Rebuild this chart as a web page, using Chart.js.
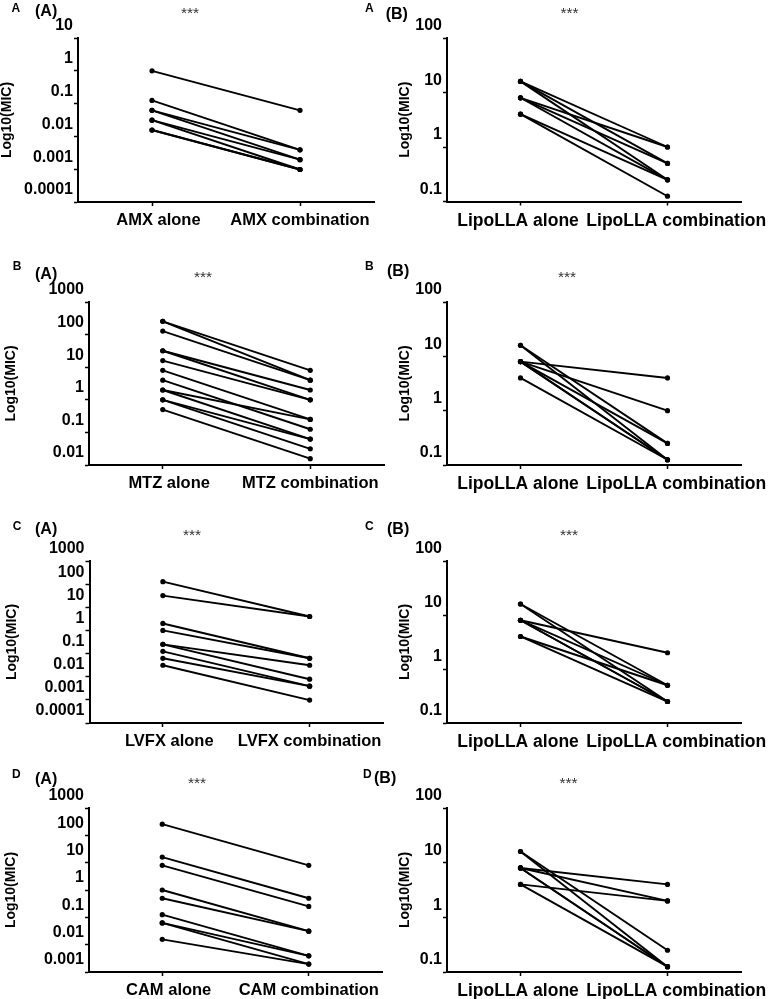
<!DOCTYPE html>
<html><head><meta charset="utf-8">
<script src="https://cdn.jsdelivr.net/npm/chart.js@4.4.1/dist/chart.umd.min.js"></script>
<style>
html,body{margin:0;padding:0;background:#fff;}
body{width:768px;height:999px;position:relative;overflow:hidden;font-family:"Liberation Sans",Arial,sans-serif;}
canvas.p{position:absolute;}
.t{position:absolute;line-height:1;white-space:nowrap;color:#000;}
</style></head><body>
<script>
// ---------- DATA ----------
const amxCats = ['AMX alone', 'AMX combination'];
const amxAlone = [1, 0.125, 0.0625, 0.0625, 0.03125, 0.03125, 0.015625, 0.015625];
const amxComb  = [0.0625, 0.0039, 0.0039, 0.00195, 0.00195, 0.00098, 0.00098, 0.00098];

const lipoCats = ['LipoLLA alone', 'LipoLLA combination'];
const lipoAAlone = [16, 16, 16, 8, 8, 8, 4, 4];
const lipoAComb  = [1, 0.5, 0.25, 1, 0.5, 0.25, 0.25, 0.125];

const mtzCats = ['MTZ alone', 'MTZ combination'];
const mtzAlone = [256, 256, 128, 32, 32, 16, 8, 4, 2, 2, 1, 1, 0.5];
const mtzComb  = [8, 4, 4, 2, 1, 1, 0.25, 0.125, 0.25, 0.0625, 0.0625, 0.03125, 0.015625];

const lipoBAlone = [16, 16, 8, 8, 8, 8, 8, 4];
const lipoBComb  = [0.25, 0.125, 4, 1, 0.25, 0.125, 0.125, 0.125];

const lvfxCats = ['LVFX alone', 'LVFX combination'];
const lvfxAlone = [128, 32, 2, 1, 0.25, 0.25, 0.125, 0.0625, 0.03125];
const lvfxComb  = [4, 4, 0.0625, 0.0625, 0.03125, 0.0078, 0.0039, 0.0039, 0.00098];

const lipoCAlone = [16, 16, 8, 8, 8, 8, 4, 4];
const lipoCComb  = [0.5, 0.25, 2, 0.5, 0.25, 0.25, 0.5, 0.25];

const camCats = ['CAM alone', 'CAM combination'];
const camAlone = [256, 16, 8, 1, 0.5, 0.125, 0.0625, 0.0625, 0.015625];
const camComb  = [8, 0.5, 0.25, 0.03125, 0.03125, 0.0039, 0.0039, 0.00195, 0.00195];

const lipoDAlone = [16, 16, 8, 8, 8, 8, 4, 4];
const lipoDComb  = [0.25, 0.125, 4, 2, 0.125, 0.125, 2, 0.125];

// tick values and labels
const ticks5 = [10, 1, 0.1, 0.01, 0.001, 0.0001];
const ticks5Labels = ['10', '1', '0.1', '0.01', '0.001', '0.0001'];
const ticksLipo = [100, 10, 1, 0.1];
const ticksLipoLabels = ['100', '10', '1', '0.1'];
const ticksMtz = [1000, 100, 10, 1, 0.1, 0.01];
const ticksMtzLabels = ['1000', '100', '10', '1', '0.1', '0.01'];
const ticksLvfx = [1000, 100, 10, 1, 0.1, 0.01, 0.001, 0.0001];
const ticksLvfxLabels = ['1000', '100', '10', '1', '0.1', '0.01', '0.001', '0.0001'];
const ticksCam = [1000, 100, 10, 1, 0.1, 0.01, 0.001];
const ticksCamLabels = ['1000', '100', '10', '1', '0.1', '0.01', '0.001'];
const yTitle = 'Log10(MIC)';

// ---------- LAYOUT ----------
const FONT = "'Liberation Sans', Arial, sans-serif";
const EN = '\u2002', NB = '\u00a0';
const padLeftPanel = [[EN + NB, ''], ['', '']];       // [alone: before, after], [combination: before, after]
const padRightPanel = [['', NB], [EN + EN, '']];
const panels = [
  {x:0,   y:8,   w:384, h:244, axL:78,   axT:38,  axB:202,   axR:374, xs:16.5, pad:padLeftPanel,  cats:amxCats,  alone:amxAlone,  comb:amxComb,  ticks:ticks5,    tl:ticks5Labels},
  {x:398, y:8,   w:370, h:244, axL:447,  axT:38,  axB:201.5, axR:741, xs:17.5, pad:padRightPanel, cats:lipoCats, alone:lipoAAlone, comb:lipoAComb, ticks:ticksLipo, tl:ticksLipoLabels},
  {x:4,   y:272, w:384, h:240, axL:89,   axT:302, axB:465,   axR:385, xs:16.5, pad:padLeftPanel,  cats:mtzCats,  alone:mtzAlone,  comb:mtzComb,  ticks:ticksMtz,  tl:ticksMtzLabels},
  {x:398, y:272, w:370, h:240, axL:447,  axT:302, axB:465,   axR:741, xs:17.5, pad:padRightPanel, cats:lipoCats, alone:lipoBAlone, comb:lipoBComb, ticks:ticksLipo, tl:ticksLipoLabels},
  {x:5,   y:530, w:382, h:236, axL:89.5, axT:561, axB:723,   axR:384, xs:16.5, pad:padLeftPanel,  cats:lvfxCats, alone:lvfxAlone, comb:lvfxComb, ticks:ticksLvfx, tl:ticksLvfxLabels},
  {x:398, y:530, w:370, h:236, axL:447,  axT:561, axB:723,   axR:741, xs:17.5, pad:padRightPanel, cats:lipoCats, alone:lipoCAlone, comb:lipoCComb, ticks:ticksLipo, tl:ticksLipoLabels},
  {x:4,   y:778, w:382, h:221, axL:89,   axT:808, axB:972,   axR:384, xs:16.5, pad:padLeftPanel,  cats:camCats,  alone:camAlone,  comb:camComb,  ticks:ticksCam,  tl:ticksCamLabels},
  {x:398, y:778, w:370, h:221, axL:447,  axT:808, axB:972,   axR:741, xs:17.5, pad:padRightPanel, cats:lipoCats, alone:lipoDAlone, comb:lipoDComb, ticks:ticksLipo, tl:ticksLipoLabels}
];

function makePanel(p) {
  const c = document.createElement('canvas');
  c.width = p.w; c.height = p.h;
  c.className = 'p';
  c.style.left = p.x + 'px'; c.style.top = p.y + 'px';
  c.style.width = p.w + 'px'; c.style.height = p.h + 'px';
  document.body.appendChild(c);
  const datasets = p.alone.map((a, i) => ({
    data: [a, p.comb[i]],
    borderColor: '#000', backgroundColor: '#000',
    borderWidth: 1.9, pointRadius: 2.6, pointBorderWidth: 0,
    pointBackgroundColor: '#000', tension: 0, clip: false
  }));
  new Chart(c, {
    type: 'line',
    data: { labels: p.cats, datasets },
    options: {
      responsive: false, animation: false, devicePixelRatio: 1,
      layout: { padding: { left: 0, right: p.w - (p.axR - p.x), top: p.axT - p.y, bottom: 0 } },
      plugins: { legend: { display: false }, tooltip: { enabled: false }, title: { display: false } },
      scales: {
        x: {
          type: 'category', offset: true,
          grid: { display: true, drawOnChartArea: false, drawTicks: true, tickLength: 4, tickWidth: 1.5, tickColor: '#000', offset: false },
          border: { display: true, color: '#000', width: 2 },
          ticks: { color: '#000', font: { family: FONT, size: p.xs, weight: 'bold' }, padding: 5, maxRotation: 0, autoSkip: false,
                   callback: function (v, i) { const pd = p.pad[i] || ['', '']; return pd[0] + this.getLabelForValue(v) + pd[1]; } },
          afterFit(s) { s.height = p.y + p.h - p.axB; s.paddingLeft = 0; s.paddingRight = 0; }
        },
        y: {
          type: 'logarithmic',
          min: p.ticks[p.ticks.length - 1], max: p.ticks[0],
          afterBuildTicks(s) { s.ticks = p.ticks.map(v => ({ value: v })); },
          grid: { display: true, drawOnChartArea: false, drawTicks: true, tickLength: 4, tickWidth: 1.5, tickColor: '#000' },
          border: { display: true, color: '#000', width: 2 },
          ticks: { color: '#000', font: { family: FONT, size: 16, weight: 'bold' }, padding: 1, labelOffset: -12, autoSkip: false,
                   callback: (v, i) => p.tl[i] },
          title: { display: true, text: yTitle, color: '#000', font: { family: FONT, size: 14, weight: 'bold', lineHeight: 1 }, padding: 0 },
          afterFit(s) { s.width = p.axL - p.x; s.paddingTop = 0; s.paddingBottom = 0; }
        }
      }
    }
  });
}
panels.forEach(makePanel);

// ---------- PANEL LETTERS & SIGNIFICANCE ----------
const marks = [
  ['A', 11.5, 12.3, 12, 'bold'], ['(A)', 35, 16.5, 16, 'bold'], ['***', 190, 18.4, 15.5, 'normal', 'c'],
  ['A', 365, 12.3, 12, 'bold'], ['(B)', 385.7, 20, 16, 'bold'], ['***', 569.5, 18.1, 15.5, 'normal', 'c'],
  ['B', 12.7, 270, 12, 'bold'], ['(A)', 35, 280, 16, 'bold'], ['***', 203, 281.8, 15.5, 'normal', 'c'],
  ['B', 365, 270, 12, 'bold'], ['(B)', 387, 276.5, 16, 'bold'], ['***', 567, 282, 15.5, 'normal', 'c'],
  ['C', 12.7, 530, 12, 'bold'], ['(A)', 35, 535, 16, 'bold'], ['***', 192, 540, 15.5, 'normal', 'c'],
  ['C', 365, 530, 12, 'bold'], ['(B)', 387, 535, 16, 'bold'], ['***', 569, 540, 15.5, 'normal', 'c'],
  ['D', 12, 778, 12, 'bold'], ['(A)', 35, 785, 16, 'bold'], ['***', 197, 788, 15.5, 'normal', 'c'],
  ['D', 363, 778, 12, 'bold'], ['(B)', 374, 783.5, 16, 'bold'], ['***', 568.5, 788, 15.5, 'normal', 'c']
];
marks.forEach(m => {
  const d = document.createElement('div');
  d.className = 't';
  d.textContent = m[0];
  d.style.fontSize = m[3] + 'px';
  d.style.fontWeight = m[4];
  d.style.top = (m[2] - 0.8465 * m[3]) + 'px';
  d.style.left = m[1] + 'px';
  if (m[5] === 'c') { d.style.transform = 'translateX(-50%)'; d.style.color = '#333'; }
  document.body.appendChild(d);
});
</script>
</body></html>
